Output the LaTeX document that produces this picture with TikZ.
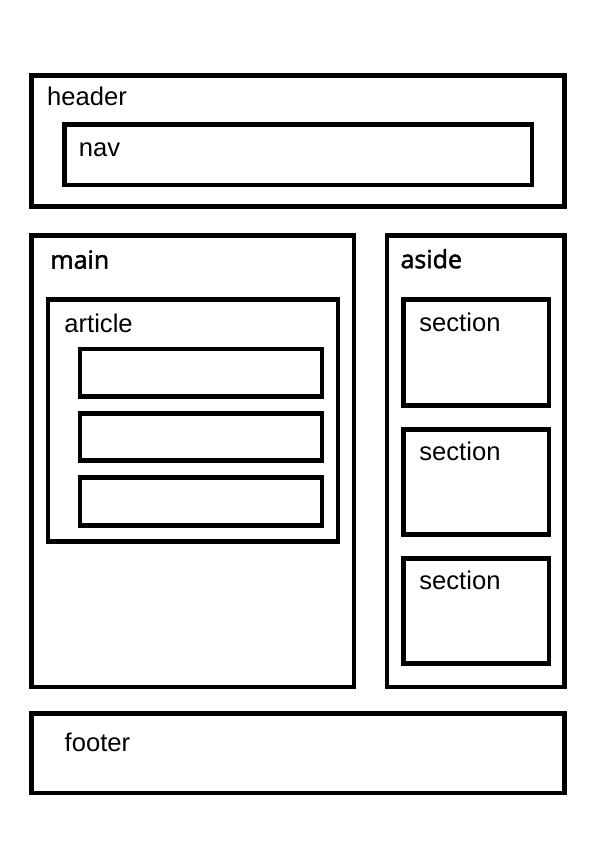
\documentclass[tikz,border=0pt]{standalone}
\usepackage{fontspec}
\setmainfont{Liberation Sans}
\newfontfamily\semifont[FakeBold=1.8]{Open Sans}
\begin{document}
\begin{tikzpicture}[x=1pt,y=-1pt,
  box/.style={draw=black,line width=4.8pt,rectangle,anchor=north west,inner sep=0pt,outer sep=0pt},
  lbl/.style={anchor=base west,inner sep=0pt,font=\fontsize{25.6}{30}\selectfont},
  slbl/.style={anchor=base west,inner sep=0pt,font=\semifont\fontsize{25}{30}\selectfont}]
\useasboundingbox[fill=white] (0,0) rectangle (600,848);
% boxes
\node[box,minimum width=533pt,minimum height=131pt] (header) at (31.5,75.5) {};
\node[box,minimum width=467.5pt,minimum height=60.5pt] (nav) at (64.5,124.5) {};
\node[box,minimum width=322.5pt,minimum height=451.5pt] (main) at (31.5,235.5) {};
\node[box,minimum width=177.5pt,minimum height=451.5pt] (aside) at (387,235.5) {};
\node[box,minimum width=290pt,minimum height=242pt] (article) at (48,299.5) {};
\node[box,minimum width=242pt,minimum height=47.5pt] (item1) at (80,349) {};
\node[box,minimum width=242pt,minimum height=47pt] (item2) at (80,413.5) {};
\node[box,minimum width=242pt,minimum height=48pt] (item3) at (80,477.5) {};
\node[box,minimum width=145.5pt,minimum height=106pt] (sec1) at (403.5,299.5) {};
\node[box,minimum width=145.5pt,minimum height=105pt] (sec2) at (403.5,429.5) {};
\node[box,minimum width=145.5pt,minimum height=105pt] (sec3) at (403.5,558.5) {};
\node[box,minimum width=533pt,minimum height=79.5pt] (footer) at (31.5,713.5) {};
% labels
\node[lbl] (theader) at (47,106) {header};
\node[lbl] (tnav) at (78.6,156.5) {nav};
\node[slbl] (tmain) at (50.2,268.7) {main};
\node[slbl] (taside) at (400.3,268.2) {aside};
\node[lbl] (tarticle) at (64.2,332) {article};
\node[lbl] (tsec1) at (419.2,331.7) {section};
\node[lbl] (tsec2) at (419.2,460.7) {section};
\node[lbl] (tsec3) at (419.2,589.3) {section};
\node[lbl] (tfooter) at (64.5,751.7) {footer};
\end{tikzpicture}
\end{document}
